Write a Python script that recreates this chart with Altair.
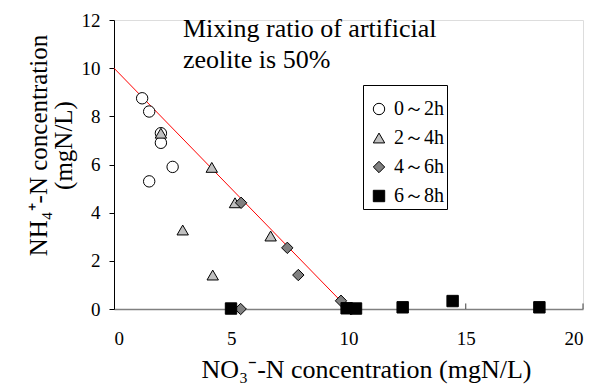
import altair as alt
import pandas as pd

# --- data ---
series_names = ["0～2h", "2～4h", "4～6h", "6～8h"]

s1_x = [1.2, 1.5, 2.0, 2.0, 2.5, 1.5]
s1_y = [8.75, 8.2, 7.3, 6.9, 5.9, 5.3]

s2_x = [2.0, 4.17, 5.16, 2.93, 6.68, 4.21]
s2_y = [7.3, 5.88, 4.41, 3.28, 3.03, 1.41]

s3_x = [5.42, 7.39, 7.86, 9.68, 5.4, 10.1]
s3_y = [4.41, 2.54, 1.41, 0.34, 0.0, 0.0]

s4_x = [4.99, 9.92, 10.32, 12.31, 14.44, 18.14]
s4_y = [0.02, 0.03, 0.02, 0.07, 0.33, 0.07]

line_x = [0, 10]
line_y = [10, 0]

x_ticks = [0, 5, 10, 15, 20]
y_ticks = [0, 2, 4, 6, 8, 10, 12]

annotation = "Mixing ratio of artificial\nzeolite is 50%"

rows = []
for name, xs, ys in zip(series_names, [s1_x, s2_x, s3_x, s4_x], [s1_y, s2_y, s3_y, s4_y]):
    for xv, yv in zip(xs, ys):
        rows.append({"x": xv, "y": yv, "series": name})
pts = pd.DataFrame(rows)
pts["order"] = pts["series"].map({n: i for i, n in enumerate(series_names)})

line_df = pd.DataFrame({"x": line_x, "y": line_y})
tick_df = pd.DataFrame({"x": x_ticks[1:]})

FONT = "'Liberation Serif', 'Times New Roman', serif"

xscale = alt.Scale(domain=[0, 20], nice=False, zero=True)
yscale = alt.Scale(domain=[0, 12], nice=False, zero=True)

x_enc = alt.X(
    "x:Q", scale=xscale,
    axis=alt.Axis(
        values=x_ticks, title="NO₃⁻-N concentration (mgN/L)", grid=False,
        ticks=False, labelPadding=20, labelFontSize=19, labelFont=FONT,
        labelColor="black", domainColor="#808080", domainWidth=1.5,
        titleFont=FONT, titleFontSize=26, titleFontWeight="normal",
        titleColor="black", titlePadding=8, titleX=252, titleAlign="center",
    ),
)
y_enc = alt.Y(
    "y:Q", scale=yscale,
    axis=alt.Axis(
        values=y_ticks, title=["NH₄⁺-N concentration", "(mgN/L)"], grid=False,
        tickSize=5, tickColor="black", labelPadding=9, labelFontSize=19,
        labelFont=FONT, labelColor="black", domainColor="black",
        titleFont=FONT, titleFontSize=25, titleFontWeight="normal",
        titleColor="black", titleAngle=270, titleAlign="center",
        titleBaseline="top", titleX=-88, titleY=125, titleLineHeight=25,
    ),
)

line = alt.Chart(line_df).mark_line(color="red", strokeWidth=1).encode(
    x=alt.X("x:Q", scale=xscale), y=alt.Y("y:Q", scale=yscale)
)

ticks = alt.Chart(tick_df).mark_rule(color="#404040", strokeWidth=1).encode(
    x=alt.X("x:Q", scale=xscale), y=alt.datum(0), y2=alt.datum(0.23)
)

legend = alt.Legend(
    title=" ", titleFontSize=9, titlePadding=2,
    orient="none", legendX=249, legendY=65,
    strokeColor="black", fillColor="white", padding=3, rowPadding=9,
    labelFont=FONT, labelFontSize=20, labelColor="black", symbolSize=130,
    symbolStrokeColor="black", symbolStrokeWidth=1, labelOffset=5,
    symbolOffset=3,
)

points = alt.Chart(pts).mark_point(filled=True, strokeWidth=1, opacity=1, size=130).encode(
    x=x_enc,
    y=y_enc,
    shape=alt.Shape("series:N", scale=alt.Scale(domain=series_names,
                    range=["circle", "triangle-up", "diamond", "square"]),
                    legend=legend),
    fill=alt.Fill("series:N", scale=alt.Scale(domain=series_names,
                  range=["white", "#c0c0c0", "#808080", "black"]),
                  legend=legend),
    stroke=alt.Stroke("series:N", scale=alt.Scale(domain=series_names,
                      range=["black", "black", "black", "black"]),
                      legend=legend),
    order=alt.Order("order:Q"),
)

text = alt.Chart(pd.DataFrame({"t": [annotation]})).mark_text(
    align="left", baseline="alphabetic", font=FONT, fontSize=26,
    lineBreak="\n", lineHeight=31, color="black"
).encode(x=alt.value(69), y=alt.value(17), text="t:N")

chart = alt.layer(line, ticks, points, text).properties(
    width=469, height=289,
    autosize=alt.AutoSizeParams(type="none"),
    padding={"left": 114, "top": 20, "right": 16, "bottom": 80},
).configure_view(stroke=None).configure(background="white")

chart.save("out.html", embed_options={"renderer": "svg", "actions": False})
